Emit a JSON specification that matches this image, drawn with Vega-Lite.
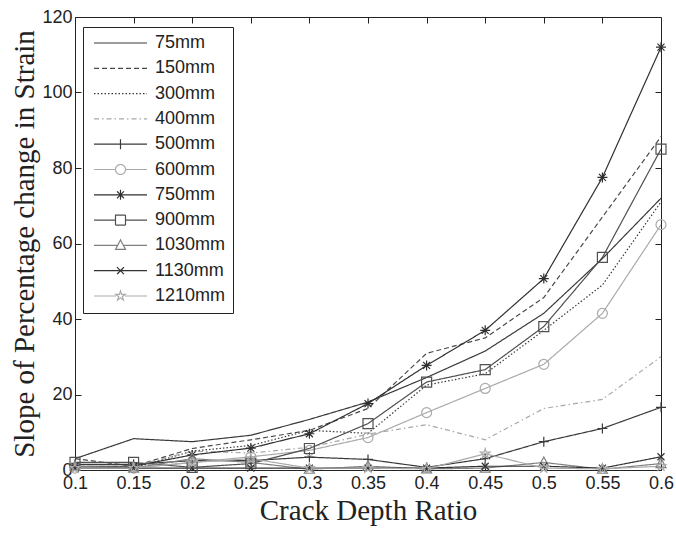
{
"$schema": "https://vega.github.io/schema/vega-lite/v6.json",
"width": 586, "height": 453,
"autosize": {"type": "none"},
"padding": {"left": 75, "top": 17, "right": 15, "bottom": 63},
"background": "white",
"config": {
  "view": {"stroke": "#222", "strokeWidth": 1},
  "axis": {"domainColor": "#222", "tickColor": "#222", "labelColor": "#222", "titleColor": "#222", "grid": false,
           "labelFont": "Liberation Sans", "labelFontSize": 18, "titleFont": "Liberation Serif", "titleFontSize": 29, "titleFontWeight": "normal", "tickSize": -6}
},
"data": {"values": [
{"x":0.1,"s":"75mm","v":3},{"x":0.15,"s":"75mm","v":8.3},{"x":0.2,"s":"75mm","v":7.5},{"x":0.25,"s":"75mm","v":9.2},{"x":0.3,"s":"75mm","v":13.4},{"x":0.35,"s":"75mm","v":18},{"x":0.4,"s":"75mm","v":24.5},{"x":0.45,"s":"75mm","v":31.5},{"x":0.5,"s":"75mm","v":41.5},{"x":0.55,"s":"75mm","v":56},{"x":0.6,"s":"75mm","v":72},
{"x":0.1,"s":"150mm","v":3},{"x":0.15,"s":"150mm","v":1},{"x":0.2,"s":"150mm","v":5.7},{"x":0.25,"s":"150mm","v":8},{"x":0.3,"s":"150mm","v":10.5},{"x":0.35,"s":"150mm","v":16.3},{"x":0.4,"s":"150mm","v":30.9},{"x":0.45,"s":"150mm","v":35},{"x":0.5,"s":"150mm","v":45.7},{"x":0.55,"s":"150mm","v":67},{"x":0.6,"s":"150mm","v":88.3},
{"x":0.1,"s":"300mm","v":1},{"x":0.15,"s":"300mm","v":0.5},{"x":0.2,"s":"300mm","v":5},{"x":0.25,"s":"300mm","v":6.5},{"x":0.3,"s":"300mm","v":10.5},{"x":0.35,"s":"300mm","v":9.7},{"x":0.4,"s":"300mm","v":22.5},{"x":0.45,"s":"300mm","v":25.5},{"x":0.5,"s":"300mm","v":37},{"x":0.55,"s":"300mm","v":49},{"x":0.6,"s":"300mm","v":71},
{"x":0.1,"s":"400mm","v":1},{"x":0.15,"s":"400mm","v":1},{"x":0.2,"s":"400mm","v":5},{"x":0.25,"s":"400mm","v":4.5},{"x":0.3,"s":"400mm","v":6},{"x":0.35,"s":"400mm","v":9.5},{"x":0.4,"s":"400mm","v":12},{"x":0.45,"s":"400mm","v":8},{"x":0.5,"s":"400mm","v":16.3},{"x":0.55,"s":"400mm","v":18.7},{"x":0.6,"s":"400mm","v":30},
{"x":0.1,"s":"500mm","v":1.5},{"x":0.15,"s":"500mm","v":1.5},{"x":0.2,"s":"500mm","v":2.5},{"x":0.25,"s":"500mm","v":2.5},{"x":0.3,"s":"500mm","v":3.4},{"x":0.35,"s":"500mm","v":2.8},{"x":0.4,"s":"500mm","v":0.7},{"x":0.45,"s":"500mm","v":3},{"x":0.5,"s":"500mm","v":7.5},{"x":0.55,"s":"500mm","v":11},{"x":0.6,"s":"500mm","v":16.6},
{"x":0.1,"s":"600mm","v":0.5},{"x":0.15,"s":"600mm","v":0.5},{"x":0.2,"s":"600mm","v":2},{"x":0.25,"s":"600mm","v":3.5},{"x":0.3,"s":"600mm","v":5.2},{"x":0.35,"s":"600mm","v":8.6},{"x":0.4,"s":"600mm","v":15.2},{"x":0.45,"s":"600mm","v":21.6},{"x":0.5,"s":"600mm","v":28},{"x":0.55,"s":"600mm","v":41.5},{"x":0.6,"s":"600mm","v":65},
{"x":0.1,"s":"750mm","v":1},{"x":0.15,"s":"750mm","v":1},{"x":0.2,"s":"750mm","v":4},{"x":0.25,"s":"750mm","v":5.8},{"x":0.3,"s":"750mm","v":9.6},{"x":0.35,"s":"750mm","v":17.6},{"x":0.4,"s":"750mm","v":27.7},{"x":0.45,"s":"750mm","v":37},{"x":0.5,"s":"750mm","v":50.7},{"x":0.55,"s":"750mm","v":77.5},{"x":0.6,"s":"750mm","v":112},
{"x":0.1,"s":"900mm","v":2},{"x":0.15,"s":"900mm","v":2},{"x":0.2,"s":"900mm","v":0.7},{"x":0.25,"s":"900mm","v":1.7},{"x":0.3,"s":"900mm","v":5.7},{"x":0.35,"s":"900mm","v":12.3},{"x":0.4,"s":"900mm","v":23.3},{"x":0.45,"s":"900mm","v":26.6},{"x":0.5,"s":"900mm","v":38},{"x":0.55,"s":"900mm","v":56.3},{"x":0.6,"s":"900mm","v":85},
{"x":0.1,"s":"1030mm","v":1},{"x":0.15,"s":"1030mm","v":0.5},{"x":0.2,"s":"1030mm","v":3},{"x":0.25,"s":"1030mm","v":2},{"x":0.3,"s":"1030mm","v":0.2},{"x":0.35,"s":"1030mm","v":1},{"x":0.4,"s":"1030mm","v":0.3},{"x":0.45,"s":"1030mm","v":0.5},{"x":0.5,"s":"1030mm","v":2},{"x":0.55,"s":"1030mm","v":0.2},{"x":0.6,"s":"1030mm","v":1.7},
{"x":0.1,"s":"1130mm","v":0.5},{"x":0.15,"s":"1130mm","v":0.5},{"x":0.2,"s":"1130mm","v":0.5},{"x":0.25,"s":"1130mm","v":0.5},{"x":0.3,"s":"1130mm","v":0.5},{"x":0.35,"s":"1130mm","v":0.5},{"x":0.4,"s":"1130mm","v":0.5},{"x":0.45,"s":"1130mm","v":1},{"x":0.5,"s":"1130mm","v":1},{"x":0.55,"s":"1130mm","v":0.5},{"x":0.6,"s":"1130mm","v":3.5},
{"x":0.1,"s":"1210mm","v":0.5},{"x":0.15,"s":"1210mm","v":0.5},{"x":0.2,"s":"1210mm","v":2},{"x":0.25,"s":"1210mm","v":3},{"x":0.3,"s":"1210mm","v":0.5},{"x":0.35,"s":"1210mm","v":0.5},{"x":0.4,"s":"1210mm","v":0.3},{"x":0.45,"s":"1210mm","v":4.3},{"x":0.5,"s":"1210mm","v":0.5},{"x":0.55,"s":"1210mm","v":0.3},{"x":0.6,"s":"1210mm","v":1}
]},
"layer": [
{
  "mark": {"type": "line", "strokeWidth": 1.2},
  "encoding": {
    "x": {"field": "x", "type": "quantitative", "scale": {"domain": [0.1, 0.6], "nice": false, "zero": false},
          "axis": {"orient": "bottom", "values": [0.1,0.15,0.2,0.25,0.3,0.35,0.4,0.45,0.5,0.55,0.6], "format": ".2~f", "labelPadding": 10, "title": "Crack Depth Ratio", "titlePadding": 4, "labelFlush": false}},
    "y": {"field": "v", "type": "quantitative", "scale": {"domain": [0, 120], "nice": false},
          "axis": {"orient": "left", "values": [0,20,40,60,80,100,120], "labelPadding": 9, "title": "Slope of Percentage change in Strain", "titlePadding": 2}},
    "color": {"field": "s", "type": "nominal",
      "scale": {"domain": ["75mm","150mm","300mm","400mm","500mm","600mm","750mm","900mm","1030mm","1130mm","1210mm"],
                "range": ["#3a3a3a","#4a4a4a","#3a3a3a","#a8a8a8","#3a3a3a","#aaaaaa","#303030","#505050","#808080","#333333","#aaaaaa"]},
      "legend": {"title": null, "orient": "none", "legendX": 8, "legendY": 10, "strokeColor": "#222", "fillColor": "white", "padding": 7,
                 "labelFont": "Liberation Sans", "labelFontSize": 18, "labelColor": "#222", "labelOffset": 47, "rowPadding": 7.3, "symbolSize": 100,
                 "encode": {"symbols": {"update": {
                    "fill": {"value": "transparent"},
                    "stroke": {"scale": "color", "field": "value"},
                    "strokeWidth": {"value": 1.2},
                    "size": {"value": 100},
                    "opacity": {"value": 1},
                    "strokeDash": {"signal": "{'150mm':[5,3],'300mm':[1.5,2],'400mm':[5,3,1.5,3]}[datum.value] || [1,0]"},
                    "shape": {"signal": "{'75mm':'M-1,0L9.6,0','150mm':'M-1,0L9.6,0','300mm':'M-1,0L9.6,0','400mm':'M-1,0L9.6,0','500mm':'M-1,0L9.6,0M4.3,-1L4.3,1','600mm':'M-1,0L3.3,0M5.3,0L9.6,0M5.3,0A1,1,0,1,1,3.3,0A1,1,0,1,1,5.3,0','750mm':'M-1,0L9.6,0M4.3,-1L4.3,1M3.6,-0.7L5,0.7M3.6,0.7L5,-0.7','900mm':'M-1,0L3.3,0M5.3,0L9.6,0M3.3,-1L5.3,-1L5.3,1L3.3,1Z','1030mm':'M-1,0L3.7,0M4.9,0L9.6,0M4.3,-1.1L5.3,0.8L3.3,0.8Z','1130mm':'M-1,0L9.6,0M3.6,-0.7L5,0.7M3.6,0.7L5,-0.7','1210mm':'M-1,0L3.4,0M5.2,0L9.6,0M4.3,-1L4.52,-0.31L5.25,-0.31L4.66,0.12L4.89,0.81L4.3,0.38L3.71,0.81L3.94,0.12L3.35,-0.31L4.08,-0.31Z'}[datum.value]"}
                 }}}}
    },
    "strokeDash": {"field": "s", "type": "nominal", "legend": null,
      "scale": {"domain": ["75mm","150mm","300mm","400mm","500mm","600mm","750mm","900mm","1030mm","1130mm","1210mm"],
                "range": [[1,0],[5,3],[1.5,2],[5,3,1.5,3],[1,0],[1,0],[1,0],[1,0],[1,0],[1,0],[1,0]]}}
  }
},
{
  "transform": [{"filter": {"not": {"field": "s", "oneOf": ["75mm","150mm","300mm","400mm"]}}}],
  "mark": {"type": "point", "filled": false, "size": 100, "strokeWidth": 1.2, "opacity": 1},
  "encoding": {
    "x": {"field": "x", "type": "quantitative", "axis": {"orient": "top", "values": [0.15,0.2,0.25,0.3,0.35,0.4,0.45,0.5,0.55], "labels": false, "title": null, "domain": false}},
    "y": {"field": "v", "type": "quantitative", "axis": {"orient": "right", "values": [20,40,60,80,100], "labels": false, "title": null, "domain": false}},
    "color": {"field": "s", "type": "nominal", "legend": null},
    "shape": {"field": "s", "type": "nominal", "legend": null,
      "scale": {"domain": ["500mm","600mm","750mm","900mm","1030mm","1130mm","1210mm"],
                "range": ["M-1,0L1,0M0,-1L0,1","M1,0A1,1,0,1,1,-1,0A1,1,0,1,1,1,0Z","M-1,0L1,0M0,-1L0,1M-0.7,-0.7L0.7,0.7M-0.7,0.7L0.7,-0.7","M-1,-1L1,-1L1,1L-1,1Z","M0,-1.1L1,0.8L-1,0.8Z","M-0.7,-0.7L0.7,0.7M-0.7,0.7L0.7,-0.7","M0,-1L0.22,-0.31L0.95,-0.31L0.36,0.12L0.59,0.81L0,0.38L-0.59,0.81L-0.36,0.12L-0.95,-0.31L-0.22,-0.31Z"]}}
  }
}
],
"resolve": {"axis": {"x": "independent", "y": "independent"}}
}
